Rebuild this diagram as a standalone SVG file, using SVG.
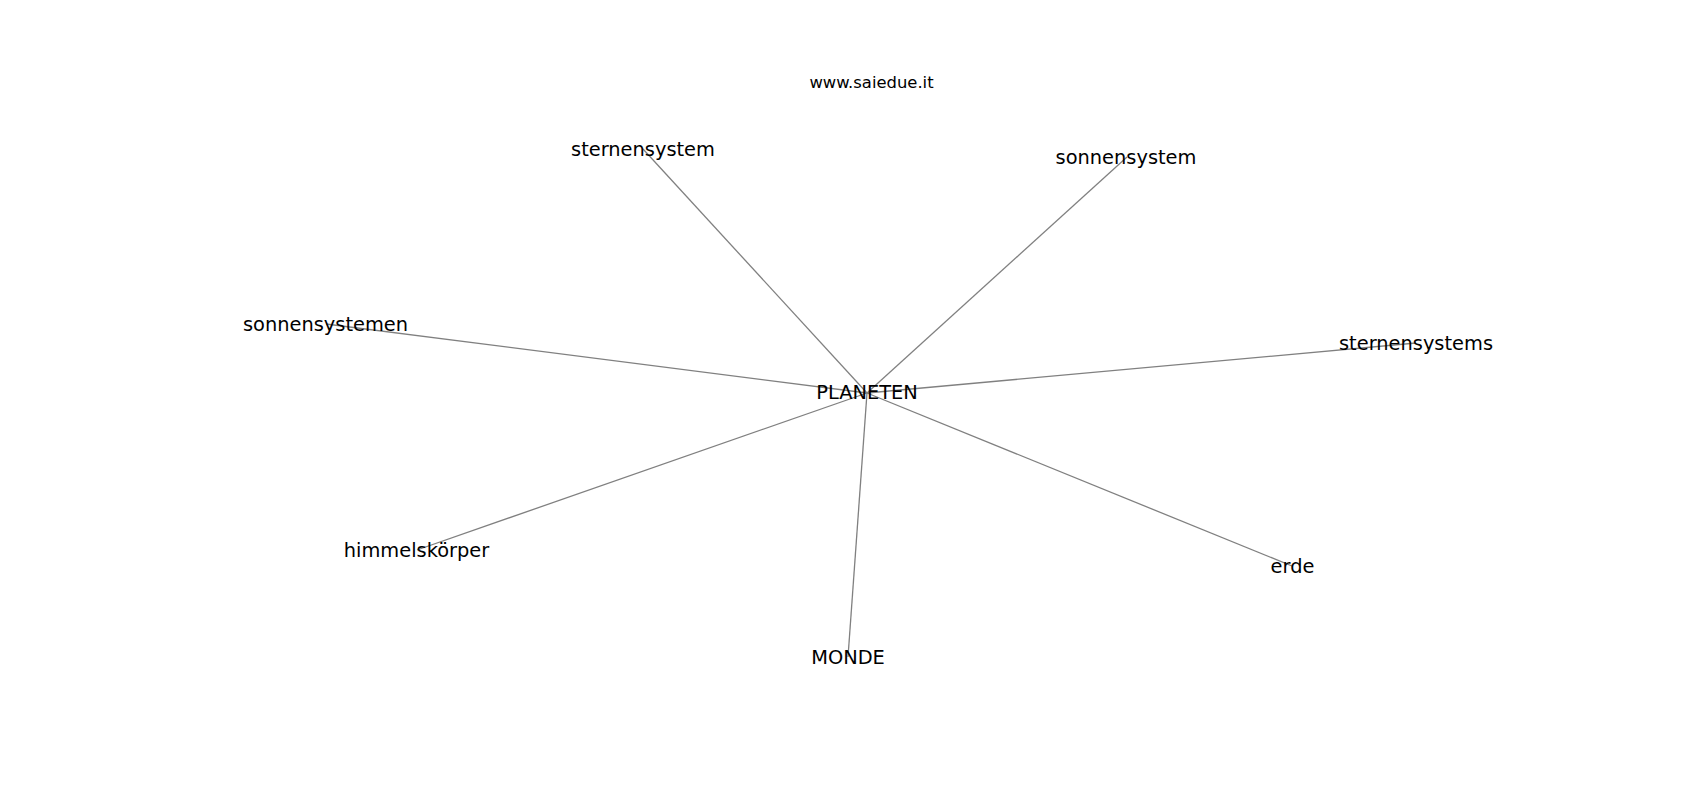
<svg xmlns="http://www.w3.org/2000/svg" width="1700" height="800" viewBox="0 0 1700 800">
<style>
.edge{stroke:#808080;stroke-width:1.3;fill:none}
.lbl{font-family:"DejaVu Sans",sans-serif;font-size:19.4px;fill:#000;text-anchor:middle}
.title{font-family:"DejaVu Sans",sans-serif;font-size:16.4px;fill:#000;text-anchor:middle}
</style>
<rect width="1700" height="800" fill="#fff"/>
<text class="title" x="871.5" y="87.5">www.saiedue.it</text>
<g id="edges">
<line class="edge" x1="867" y1="393" x2="643" y2="149"/>
<line class="edge" x1="867" y1="393" x2="1127" y2="157"/>
<line class="edge" x1="867" y1="393" x2="326" y2="324"/>
<line class="edge" x1="867" y1="393" x2="1416" y2="343"/>
<line class="edge" x1="867" y1="393" x2="417" y2="550"/>
<line class="edge" x1="867" y1="393" x2="1292" y2="566"/>
<line class="edge" x1="867" y1="393" x2="848" y2="657"/>
</g>
<g id="n_planeten"><text class="lbl" x="867" y="399">PLANETEN</text></g>
<g id="n_sternensystem"><text class="lbl" x="643" y="156">sternensystem</text></g>
<g id="n_sonnensystem"><text class="lbl" x="1126" y="164">sonnensystem</text></g>
<g id="n_sonnensystemen"><text class="lbl" x="325.5" y="331">sonnensystemen</text></g>
<g id="n_sternensystems"><text class="lbl" x="1416" y="350">sternensystems</text></g>
<g id="n_himmelskoerper"><text class="lbl" x="416.5" y="557">himmelskörper</text></g>
<g id="n_erde"><text class="lbl" x="1292.5" y="573">erde</text></g>
<g id="n_monde"><text class="lbl" x="848" y="664">MONDE</text></g>
</svg>
